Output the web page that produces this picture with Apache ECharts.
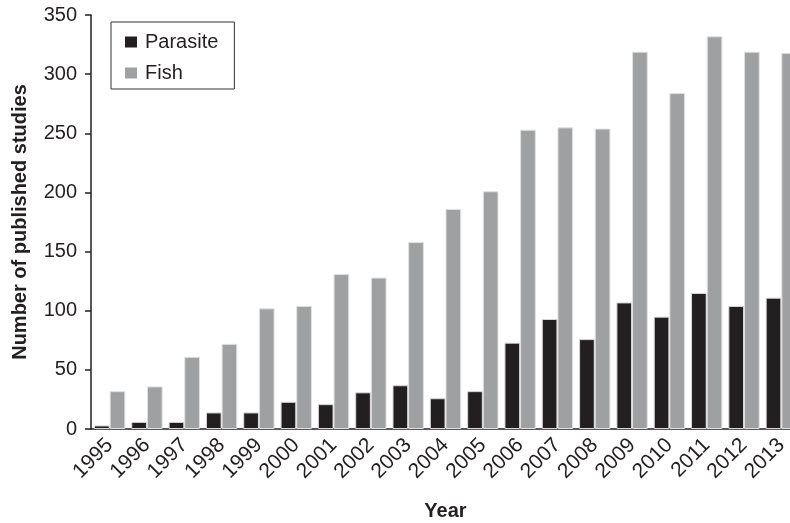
<!DOCTYPE html>
<html>
<head>
<meta charset="utf-8">
<script src="https://cdn.jsdelivr.net/npm/echarts@6/dist/echarts.min.js"></script>
<style>
  html, body { margin: 0; padding: 0; background: #fff; }
  #chart { width: 790px; height: 523px; }
</style>
</head>
<body>
<div id="chart"></div>
<script>
// data
const years = ['1995', '1996', '1997', '1998', '1999', '2000', '2001', '2002', '2003', '2004',
  '2005', '2006', '2007', '2008', '2009', '2010', '2011', '2012', '2013']
const parasite = [3, 6, 6, 14, 14, 23, 21, 31, 37, 26, 32, 73, 93, 76, 107, 95, 115, 104, 111]
const fish = [32, 36, 61, 72, 102, 104, 131, 128, 158, 186, 201, 253, 255, 254, 319, 284, 332, 319, 318]

const font = 'Liberation Sans, Arial, Helvetica, sans-serif'

const chart = echarts.init(document.getElementById('chart'))
chart.setOption({
  animation: false,
  textStyle: { fontFamily: font },
  legend: {
    orient: 'vertical',
    left: 111,
    top: 22,
    padding: [10, 16, 6, 14],
    borderColor: '#333',
    borderWidth: 1,
    itemWidth: 12,
    itemHeight: 11,
    itemGap: 11,
    icon: 'rect',
    itemStyle: { borderWidth: 0 },
    textStyle: { fontFamily: font, fontSize: 20, color: '#231f20', padding: [0, 0, 0, 3] },
    data: ['Parasite', 'Fish']
  },
  grid: {
    left: 91,
    top: 15,
    width: 709,
    bottom: 94,
    outerBoundsMode: 'none'
  },
  xAxis: {
    type: 'category',
    data: years,
    name: 'Year',
    nameLocation: 'middle',
    nameGap: 72,
    nameTextStyle: { fontFamily: font, fontSize: 20, fontWeight: 'bold', color: '#231f20' },
    axisLine: { lineStyle: { color: '#231f20', width: 1.5 } },
    axisTick: { length: 5, lineStyle: { color: '#231f20', width: 1.5 } },
    axisLabel: { rotate: 45, fontSize: 21, color: '#231f20', interval: 0, margin: 13 }
  },
  yAxis: {
    type: 'value',
    min: 0,
    max: 350,
    interval: 50,
    name: 'Number of published studies',
    nameLocation: 'middle',
    nameGap: 61,
    nameTextStyle: { fontFamily: font, fontSize: 20, fontWeight: 'bold', color: '#231f20' },
    axisLine: { show: true, lineStyle: { color: '#231f20', width: 1.5 } },
    axisTick: { show: true, length: 6, lineStyle: { color: '#231f20', width: 1.5 } },
    axisLabel: { fontSize: 20, color: '#231f20', margin: 14 },
    splitLine: { show: false }
  },
  series: [
    {
      name: 'Parasite',
      type: 'bar',
      data: parasite,
      barGap: '0%',
      barCategoryGap: '16%',
      itemStyle: { color: '#231f20', borderColor: '#d8d8d8', borderWidth: 1 }
    },
    {
      name: 'Fish',
      type: 'bar',
      data: fish,
      itemStyle: { color: '#9fa0a2', borderColor: '#e0e0e0', borderWidth: 1 }
    }
  ]
})
</script>
</body>
</html>
